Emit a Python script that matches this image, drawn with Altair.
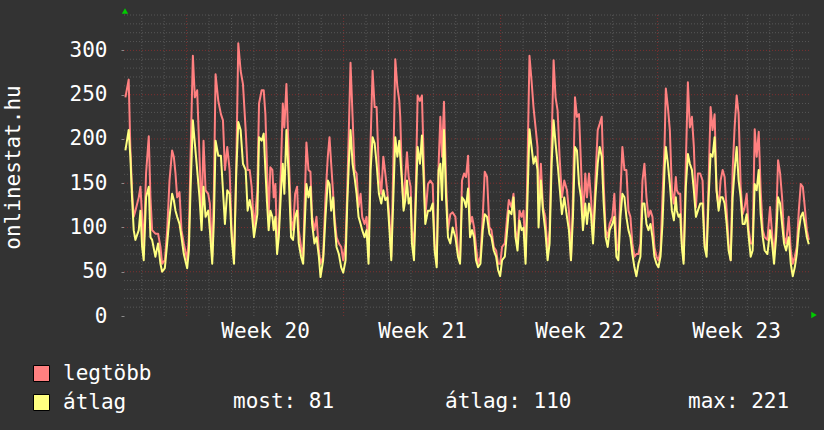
import altair as alt
import pandas as pd

# time in hours from the left edge of the graph
hours = [
    1.5, 5.0, 6.8, 8.6, 10.4, 12.2, 15.8, 17.6, 19.4, 21.1, 23.6, 26.5, 28.3, 30.1, 33.6, 36.5, 39.0, 40.8, 43.7, 46.2,
    48.7, 51.5, 53.3, 55.1, 56.9, 59.4, 61.5, 64.0, 67.6, 69.4, 71.2, 73.7, 75.8, 78.3, 80.8, 83.0, 85.1, 87.3, 90.1, 91.9,
    94.4, 96.2, 98.0, 100.9, 103.7, 105.9, 108.0, 110.5, 113.0, 115.2, 117.7, 120.2, 122.3, 124.8, 127.3, 130.2, 132.3, 134.5, 136.6, 139.1,
    142.7, 144.5, 147.3,
    149.5, 151.3, 153.1, 154.8, 156.6, 158.8, 160.2, 162.0, 163.8, 165.6, 168.1, 169.9, 171.6, 173.8, 176.3, 178.8, 180.9, 183.1, 185.2, 187.0,
    189.5, 191.7, 193.1, 195.2, 197.4, 199.5, 201.3, 203.8, 206.0, 208.5, 210.3, 213.1, 215.6, 218.1, 219.9, 221.7, 223.8, 225.3, 227.4, 229.9,
    232.4, 234.6, 237.1, 238.9, 240.6, 242.4, 244.6, 246.7, 248.9, 251.0, 253.2, 254.9, 257.4, 259.6, 261.7, 263.9, 266.0, 268.2, 270.3, 272.8,
    275.3, 277.5, 279.6, 281.8, 283.9, 286.0, 288.2, 290.3, 292.5, 294.6,
    295.6, 297.4, 299.2, 301.0, 302.8, 304.6, 306.7, 308.1, 310.3, 312.4, 314.2, 316.7, 318.8, 320.6, 322.4, 325.3, 327.8, 330.3, 332.4, 334.6,
    336.7, 338.5, 340.3, 342.4, 344.6, 346.7, 349.2, 351.7, 354.6, 357.4, 359.6, 361.7, 363.9, 366.0, 368.2, 370.3, 372.5, 374.6, 376.7, 378.9,
    381.4, 383.9, 386.0, 388.5, 391.0, 393.2, 395.7, 398.2, 400.3, 402.5, 404.6, 407.5, 410.0, 411.8, 414.6, 416.8, 418.9, 421.1, 423.2, 425.4,
    427.5, 429.7, 431.8, 433.9, 436.1, 438.2, 440.4, 442.5,
    443.6, 446.1, 448.3, 450.8, 453.3, 455.4, 457.6, 459.7, 461.8, 464.0, 466.1, 468.6, 471.1, 474.0, 476.1, 478.3, 480.4, 482.6, 484.7, 486.9,
    489.0, 491.1, 493.6, 495.4, 497.6, 499.7, 501.9, 504.4, 506.9, 509.0, 511.2, 513.3, 515.4, 517.6, 519.7, 522.6, 524.7, 526.9, 529.0, 531.2,
    533.3, 535.5, 537.6, 539.8, 541.9, 544.0, 546.2, 548.3, 550.5, 552.6, 554.8, 556.9, 559.1, 561.2, 563.4, 565.5, 567.6, 569.8, 571.9, 574.1,
    576.2, 578.4, 579.8, 582.0, 584.1, 586.3, 588.4, 590.5,
    591.6, 593.4, 595.2, 597.0, 598.8, 601.2, 603.4, 605.5, 607.7, 609.8, 612.0, 614.1, 616.6, 619.1, 621.3, 623.4, 625.6, 627.7, 629.8, 632.0,
    634.1, 636.3, 638.4, 640.6, 642.7, 644.9, 647.0, 649.2, 651.3, 653.4, 655.6, 657.7, 659.9, 662.0, 664.2, 666.3, 668.5, 670.6, 672.7, 674.9,
    677.0, 679.2, 681.3, 683.5, 685.6, 688.5, 691.3, 693.5, 695.6, 697.8, 699.9, 702.1, 704.2, 706.3, 708.5, 711.3, 713.5, 715.6, 717.8, 719.9,
    722.1, 724.2, 726.4, 728.5, 730.7, 732.8,
]

# "legtöbb" (maximum) series
legtobb = [
    247, 267, 190, 142, 112, 119, 134, 146, 112, 74, 161, 203, 134, 97, 93, 93, 78, 59, 63, 97,
    153, 187, 180, 161, 134, 140, 97, 82, 63, 89, 180, 294, 247, 255, 180, 112, 198, 142, 138, 127,
    67, 142, 273, 243, 228, 221, 165, 191, 165, 97, 63, 172, 308, 277, 262, 210, 165, 165, 146, 97,
    142, 240, 255,
    255, 228, 165, 112, 168, 165, 134, 149, 82, 97, 172, 240, 213, 262, 180, 108, 97, 138, 146, 97,
    78, 67, 119, 196, 165, 163, 112, 97, 112, 74, 59, 67, 134, 180, 202, 172, 138, 112, 89, 82,
    78, 63, 82, 142, 210, 286, 225, 165, 161, 123, 138, 112, 104, 112, 67, 198, 277, 236, 236, 161,
    138, 180, 161, 140, 112, 67, 172, 290, 259, 243,
    225, 157, 123, 157, 185, 157, 146, 97, 78, 153, 249, 243, 249, 180, 112, 149, 153, 149, 82, 59,
    172, 225, 180, 242, 153, 97, 115, 117, 112, 74, 63, 153, 161, 157, 181, 104, 112, 100, 78, 59,
    67, 112, 163, 157, 100, 97, 78, 74, 59, 59, 78, 82, 112, 131, 123, 138, 97, 82, 119, 112,
    119, 67, 172, 294, 266, 236, 213, 191,
    127, 172, 123, 112, 74, 97, 195, 289, 247, 232, 180, 134, 153, 142, 119, 63, 134, 247, 225, 228,
    172, 108, 161, 134, 161, 134, 89, 153, 210, 217, 225, 149, 97, 89, 104, 112, 138, 82, 74, 138,
    191, 165, 165, 119, 112, 82, 67, 70, 70, 82, 153, 172, 134, 112, 119, 112, 78, 67, 63, 74,
    134, 191, 257, 236, 210, 142, 127, 157,
    142, 138, 138, 82, 63, 172, 264, 213, 225, 191, 123, 161, 161, 153, 82, 74, 153, 236, 210, 228,
    142, 123, 153, 165, 157, 119, 82, 63, 165, 213, 249, 228, 146, 115, 123, 138, 97, 82, 82, 211,
    180, 208, 142, 97, 89, 86, 123, 93, 67, 104, 176, 161, 134, 89, 82, 112, 74, 59, 67, 78,
    119, 149, 146, 123, 97, 86,
]

# "átlag" (average) series
atlag = [
    187, 210, 180, 134, 97, 86, 97, 119, 78, 63, 134, 146, 89, 86, 67, 82, 59, 50, 54, 82,
    112, 138, 131, 119, 112, 104, 89, 70, 54, 74, 142, 221, 195, 165, 134, 97, 146, 112, 119, 97,
    59, 108, 198, 181, 181, 142, 104, 142, 138, 89, 59, 165, 219, 210, 172, 165, 119, 131, 119, 89,
    115, 202, 198,
    206, 165, 127, 97, 119, 112, 97, 112, 70, 89, 142, 172, 138, 210, 157, 89, 86, 112, 119, 82,
    67, 59, 97, 149, 134, 146, 104, 82, 89, 67, 44, 63, 112, 153, 149, 119, 134, 104, 78, 70,
    55, 49, 63, 127, 172, 210, 172, 157, 138, 112, 104, 97, 89, 97, 59, 165, 202, 195, 172, 138,
    127, 142, 131, 134, 100, 63, 134, 202, 180, 198,
    180, 153, 119, 131, 153, 127, 134, 82, 63, 134, 191, 172, 204, 157, 104, 119, 119, 127, 74, 55,
    165, 172, 131, 210, 134, 89, 82, 100, 89, 67, 59, 134, 131, 123, 144, 89, 97, 89, 63, 55,
    59, 97, 115, 112, 93, 89, 74, 67, 52, 45, 63, 67, 97, 119, 115, 134, 89, 74, 108, 97,
    100, 59, 134, 211, 191, 172, 180, 165,
    100, 153, 119, 97, 63, 82, 172, 221, 195, 172, 146, 115, 134, 112, 97, 63, 112, 191, 187, 149,
    134, 97, 127, 104, 127, 115, 82, 134, 172, 191, 180, 127, 89, 78, 97, 104, 112, 67, 63, 112,
    138, 134, 112, 97, 89, 70, 55, 45, 59, 67, 127, 127, 104, 97, 104, 89, 67, 59, 55, 67,
    104, 165, 191, 172, 149, 119, 108, 134,
    119, 112, 115, 78, 59, 146, 183, 172, 165, 142, 112, 119, 127, 127, 78, 67, 134, 183, 180, 202,
    142, 119, 134, 134, 127, 104, 74, 63, 134, 165, 191, 153, 134, 104, 104, 115, 89, 67, 74, 149,
    142, 165, 115, 89, 74, 70, 97, 82, 59, 89, 134, 127, 104, 82, 74, 89, 59, 45, 55, 70,
    97, 112, 117, 104, 89, 81,
]

y_ticks = [0, 50, 100, 150, 200, 250, 300]
y_minor = [v for v in range(10, 341, 10) if v % 50]
y_major = [50, 100, 150, 200, 250, 300]
week_lines = [67, 235, 403, 571]
day_lines = [h for h in range(19, 733, 24) if h not in week_lines]
week_mid = [151, 319, 487, 655]
week_labels = ["Week 20", "Week 21", "Week 22", "Week 23"]
series_names = ["legtöbb", "átlag"]
series_colors = ["#ff8080", "#ffff80"]
stats = ["most: 81", "átlag: 110", "max: 221"]

FONT = "DejaVu Sans Mono"
FS = 21

xscale = alt.Scale(domain=[0, 733], nice=False, zero=False)
yscale = alt.Scale(domain=[0, 340], nice=False, zero=True)

label_list = "[" + ",".join("'" + s + "'" for s in week_labels) + "]"
pos_list = "[" + ",".join(str(p) for p in week_mid) + "]"

xax = alt.Axis(
    values=week_mid,
    labelExpr=label_list + "[indexof(" + pos_list + ", datum.value)]",
    grid=False, ticks=False, domain=False,
    labelPadding=21, labelBaseline="alphabetic",
    labelFont=FONT, labelFontSize=FS, labelColor="#ffffff",
    labelOverlap=False, labelFlush=False, title=None,
)
yax = alt.Axis(
    values=y_ticks, grid=False, domain=False,
    ticks=True, tickSize=3, tickColor="#8a8a8a",
    labelPadding=14, labelFont=FONT, labelFontSize=FS, labelColor="#ffffff",
    title="onlinestat.hu", titleFont=FONT, titleFontSize=FS, titleFontWeight="normal",
    titleColor="#ffffff", titleAngle=270, titleX=-111, titleY=152,
    titleAlign="center", titleBaseline="middle",
)

X = lambda f: alt.X(f, scale=xscale, axis=xax)
Y = lambda f: alt.Y(f, scale=yscale, axis=yax)

GRID_MINOR = "#575757"
GRID_MAJOR = "#7e3030"

minor_v = alt.Chart(pd.DataFrame({"h": day_lines})).mark_rule(
    color=GRID_MINOR, strokeDash=[1, 2], strokeWidth=1).encode(x=X("h:Q"))
major_v = alt.Chart(pd.DataFrame({"h": week_lines})).mark_rule(
    color=GRID_MAJOR, strokeDash=[1, 2], strokeWidth=1).encode(x=X("h:Q"))
minor_h = alt.Chart(pd.DataFrame({"v": y_minor})).mark_rule(
    color=GRID_MINOR, strokeDash=[1, 2], strokeWidth=1).encode(y=Y("v:Q"))
major_h = alt.Chart(pd.DataFrame({"v": y_major})).mark_rule(
    color=GRID_MAJOR, strokeDash=[1, 2], strokeWidth=1).encode(y=Y("v:Q"))

df = pd.DataFrame({"h": hours, "legtöbb": legtobb, "átlag": atlag})

red = alt.Chart(df).mark_line(color=series_colors[0], strokeWidth=2, strokeJoin="round").encode(
    x=X("h:Q"), y=Y("legtöbb:Q"))
yellow = alt.Chart(df).mark_line(color=series_colors[1], strokeWidth=2, strokeJoin="round").encode(
    x=X("h:Q"), y=Y("átlag:Q"))

legend_layer = alt.Chart(pd.DataFrame({"series": series_names})).mark_square(
    filled=True, opacity=0, size=1).encode(
    color=alt.Color(
        "series:N",
        scale=alt.Scale(domain=series_names, range=series_colors),
        legend=alt.Legend(
            title=None, orient="none", legendX=-93, legendY=348, direction="vertical",
            symbolType="square", symbolSize=256, symbolStrokeColor="#000000",
            symbolStrokeWidth=1, symbolOpacity=1,
            labelFont=FONT, labelFontSize=FS, labelColor="#ffffff",
            labelOffset=11, rowPadding=7, padding=0, offset=0,
        ),
    )
)

one = pd.DataFrame({"k": [0]})
arrow_up = alt.Chart(one).mark_point(shape="triangle-up", filled=True, color="#00cc00",
                                      opacity=1, size=40).encode(x=alt.value(1), y=alt.value(-4))
arrow_right = alt.Chart(one).mark_point(shape="triangle-right", filled=True, color="#00cc00",
                                         opacity=1, size=40).encode(x=alt.value(690), y=alt.value(300))

stat_x = [109, 321, 564]
stat_layers = [
    alt.Chart(pd.DataFrame({"label": [s]})).mark_text(
        align="left", baseline="middle", font=FONT, fontSize=FS, color="#ffffff",
        x=px, y=386.5).encode(text="label:N")
    for s, px in zip(stats, stat_x)
]

chart = alt.layer(
    minor_v, major_v, minor_h, major_h, red, yellow, legend_layer, arrow_up, arrow_right, *stat_layers
).properties(
    width=685, height=301,
    autosize=alt.AutoSizeParams(type="none"),
    padding={"left": 124, "top": 15, "right": 15, "bottom": 114},
    background="#333333",
).configure_view(fill="#212121", stroke="transparent")

chart.save("out.html", embed_options={"renderer": "svg", "actions": False})
